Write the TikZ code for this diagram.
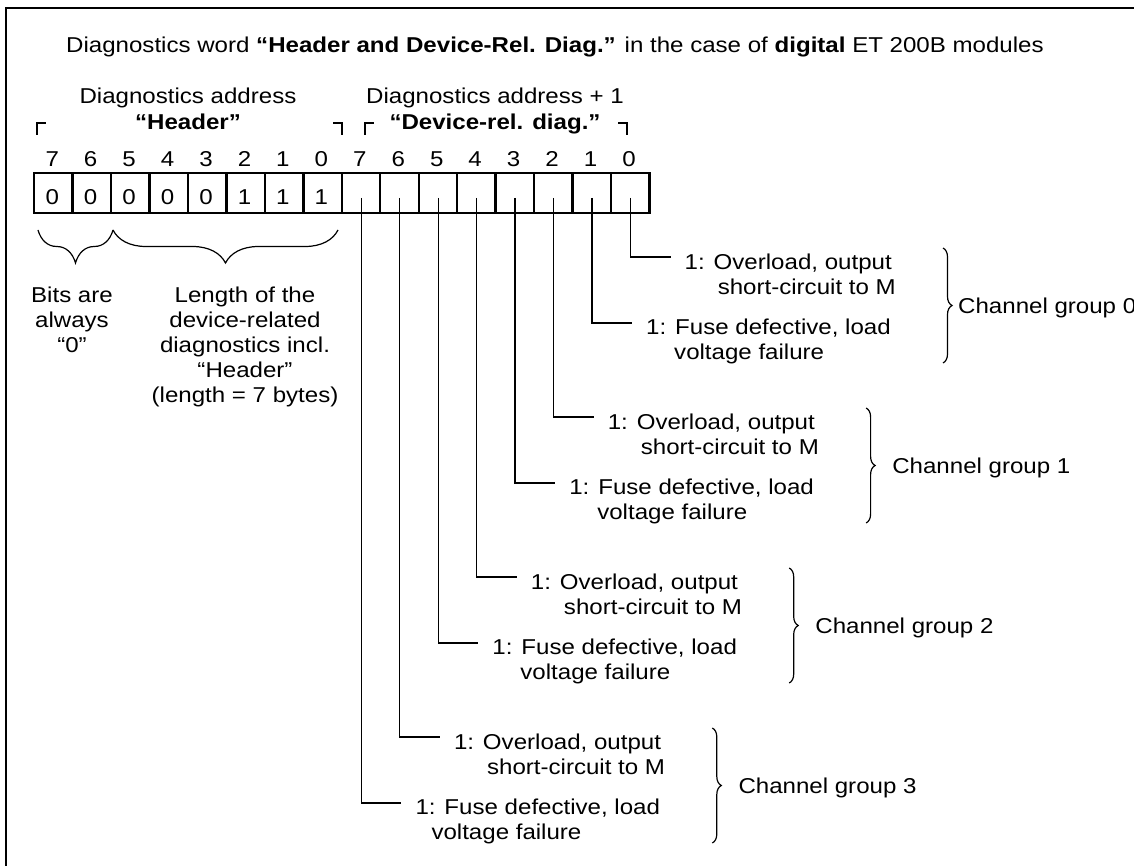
\documentclass[tikz,border=0pt]{standalone}
\usepackage{fontspec}
\setmainfont[FakeStretch=1.12]{Liberation Sans}
\usetikzlibrary{decorations.pathreplacing}
\newcommand\myfs{\fontsize{21.5}{25}\selectfont}
\begin{document}
\begin{tikzpicture}[x=1pt,y=-1pt,
  lbl/.style={inner sep=0pt, font=\myfs},
  bitbox/.style={draw, line width=2.4pt, minimum width=38.45pt, minimum height=40pt, inner sep=0pt, anchor=north west},
  conn/.style={line width=1.3pt},
  brk/.style={line width=1.2pt},
  brc/.style={decorate, decoration={brace, amplitude=#1}, line width=1.2pt},
  brc/.default=9]
\useasboundingbox (0,0) rectangle (1134,866);
% frame
\draw[line width=1.4pt] (6,866) -- (6,8) -- (1134,8);
% title
\node[lbl, anchor=base west] (title) at (66,53) {Diagnostics word \textbf{“Header and Device-Rel. Diag.”} in the case of \textbf{digital} ET 200B modules};
% address headings
\node[lbl, anchor=base] (da) at (188,104) {Diagnostics address};
\node[lbl, anchor=base] (hd) at (188,130) {\textbf{“Header”}};
\node[lbl, anchor=base] (da1) at (495,104) {Diagnostics address + 1};
\node[lbl, anchor=base] (dr) at (495,130) {\textbf{“Device-rel. diag.”}};
% corner brackets
\draw[brk] (37,135) -- (37,123) -- (46,123);
\draw[brk] (333,123) -- (342,123) -- (342,135);
\draw[brk] (365,135) -- (365,123) -- (374,123);
\draw[brk] (618,123) -- (627,123) -- (627,135);
% bit boxes and numbers
\foreach \i in {0,...,15} {
  \pgfmathtruncatemacro\n{7-mod(\i,8)}
  \node[bitbox] (c\i) at ({33+38.45*\i},172) {};
  \node[lbl, anchor=base] (n\i) at ({52.2+38.45*\i},167) {\n};
}
\foreach \v [count=\i from 0] in {0,0,0,0,0,1,1,1}
  \node[lbl, anchor=base] (v\i) at ({52.2+38.45*\i},205) {\v};
% braces under header
\draw[brc=33] (113,230) -- (38,230);
\draw[brc=33] (338,230) -- (113,230);
\node[lbl, align=center, anchor=north] (bits) at (72,286.5) {Bits are\\always\\“0”};
\node[lbl, align=center, anchor=north] (len) at (245,286.5) {Length of the\\device-related\\diagnostics incl.\\“Header”\\(length = 7 bytes)};
% channel groups
\foreach \k/\g/\ind in {0/15/28,1/26/28,2/26/28,3/26/16} {
  \pgfmathsetmacro\B{248+160*\k}
  \pgfmathsetmacro\Xo{630.5-76.9*\k}
  \pgfmathsetmacro\Xf{592.0-76.9*\k}
  \pgfmathsetmacro\Xb{943-76.9*\k}
  \coordinate (so\k) at (\Xo,198);
  \coordinate (eo\k) at ({\Xo+40},{\B+9});
  \coordinate (sf\k) at (\Xf,198);
  \coordinate (ef\k) at ({\Xf+40},{\B+75});
  \draw[conn] (so\k) |- (eo\k);
  \draw[conn] (sf\k) |- (ef\k);
  \node[lbl, align=right, anchor=north west] (ov\k) at ({\Xo+54},{\B+5.3}) {1: Overload, output\hspace*{4pt}\\short-circuit to M};
  \node[lbl, align=left, anchor=north west] (fu\k) at ({\Xf+54},{\B+70.3}) {1: Fuse defective, load\\\hspace*{\ind pt}voltage failure};
  \coordinate (bt\k) at (\Xb,\B);
  \coordinate (bb\k) at (\Xb,{\B+115});
  \draw[brc] (bt\k) -- (bb\k);
  \node[lbl, anchor=base west] (cg\k) at ({\Xb+\g},{\B+65}) {Channel group \k};
}
\end{tikzpicture}
\end{document}
